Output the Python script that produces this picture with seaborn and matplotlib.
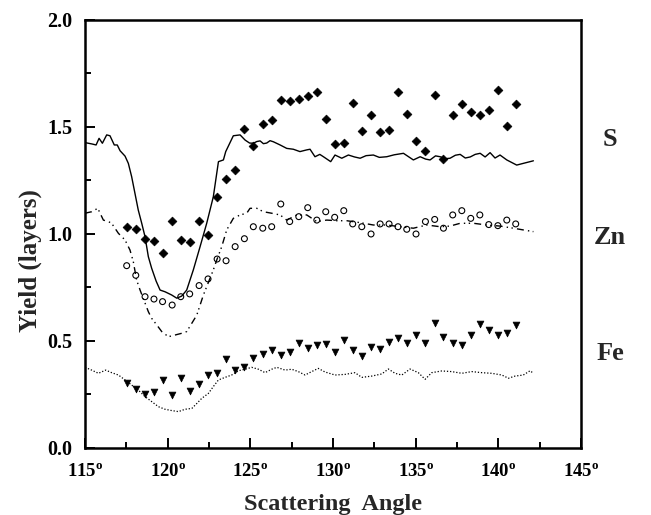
import matplotlib
matplotlib.use("Agg")
import matplotlib.pyplot as plt
import seaborn as sns
import pandas as pd
from matplotlib.ticker import MultipleLocator, FixedLocator, FixedFormatter

# ---- measured points (scattering angle in degrees, yield in layers) ----
pt_angle = [117.52, 118.07, 118.63, 119.17, 119.69, 120.27, 120.79, 121.33, 121.90, 122.44,
            122.99, 123.53, 124.08, 124.64, 125.18, 125.75, 126.29, 126.84, 127.38, 127.93,
            128.47, 129.02, 129.56, 130.10, 130.65, 131.19, 131.74, 132.30, 132.85, 133.39,
            133.93, 134.46, 135.02, 135.59, 136.15, 136.68, 137.24, 137.79, 138.33, 138.88,
            139.42, 139.97, 140.51, 141.05]

s_points = [1.034, 1.023, 0.975, 0.967, 0.910, 1.060, 0.972, 0.961, 1.061, 0.994,
            1.173, 1.258, 1.301, 1.489, 1.413, 1.514, 1.533, 1.628, 1.623, 1.632,
            1.643, 1.665, 1.539, 1.419, 1.427, 1.614, 1.480, 1.558, 1.478, 1.487,
            1.662, 1.559, 1.433, 1.388, 1.650, 1.349, 1.558, 1.606, 1.569, 1.554,
            1.578, 1.673, 1.503, 1.609]

zn_points = [0.852, 0.807, 0.707, 0.696, 0.684, 0.668, 0.707, 0.720, 0.759, 0.790,
             0.883, 0.875, 0.941, 0.978, 1.034, 1.027, 1.034, 1.140, 1.058, 1.081,
             1.123, 1.065, 1.104, 1.078, 1.109, 1.047, 1.034, 1.000, 1.047, 1.047,
             1.034, 1.022, 1.000, 1.058, 1.068, 1.027, 1.089, 1.109, 1.073, 1.089,
             1.044, 1.039, 1.065, 1.047]

fe_points = [0.302, 0.274, 0.251, 0.263, 0.318, 0.249, 0.326, 0.268, 0.299, 0.341,
             0.352, 0.417, 0.364, 0.377, 0.419, 0.439, 0.458, 0.433, 0.447, 0.489,
             0.467, 0.481, 0.485, 0.450, 0.505, 0.458, 0.430, 0.471, 0.464, 0.497,
             0.515, 0.489, 0.528, 0.492, 0.583, 0.520, 0.492, 0.480, 0.528, 0.581,
             0.553, 0.527, 0.536, 0.573]

# ---- simulated curves ----
s_sim_angle = [115.0, 115.4, 115.67, 115.85, 116.05, 116.31, 116.51, 116.77, 116.95, 117.12,
               117.42, 117.62, 117.82, 118.02, 118.22, 118.43, 118.63, 118.83, 119.03, 119.3,
               119.54, 119.84, 120.24, 120.55, 120.85, 121.15, 121.55, 121.96, 122.36, 122.76,
               123.07, 123.37, 123.51, 123.97, 124.38, 124.68, 124.95, 125.18, 125.39, 125.59,
               125.79, 125.99, 126.19, 126.39, 126.8, 127.2, 127.6, 128.0, 128.41, 128.61,
               128.91, 129.2, 129.42, 129.86, 130.12, 130.53, 130.93, 131.3, 131.64, 132.0,
               132.44, 132.8, 133.25, 133.7, 134.26, 134.86, 135.27, 135.6, 135.87, 136.2,
               136.48, 136.8, 137.08, 137.4, 137.69, 138.0, 138.3, 138.6, 138.9, 139.2,
               139.5, 139.8, 140.1, 140.51, 141.11, 141.51, 142.12]
s_sim = [1.427, 1.421, 1.416, 1.447, 1.424, 1.463, 1.459, 1.416, 1.416, 1.389,
         1.364, 1.330, 1.268, 1.190, 1.112, 1.050, 0.987, 0.894, 0.840, 0.780,
         0.738, 0.730, 0.715, 0.700, 0.710, 0.738, 0.832, 0.941, 1.050, 1.174,
         1.338, 1.346, 1.385, 1.459, 1.463, 1.439, 1.425, 1.424, 1.432, 1.435,
         1.422, 1.425, 1.436, 1.431, 1.416, 1.400, 1.396, 1.385, 1.393, 1.396,
         1.361, 1.372, 1.361, 1.338, 1.369, 1.354, 1.369, 1.360, 1.354, 1.366,
         1.369, 1.358, 1.361, 1.370, 1.377, 1.346, 1.361, 1.350, 1.346, 1.365,
         1.361, 1.352, 1.354, 1.368, 1.372, 1.355, 1.360, 1.372, 1.377, 1.360,
         1.380, 1.355, 1.369, 1.346, 1.322, 1.330, 1.342]

zn_sim_angle = [115.0, 115.4, 115.77, 116.11, 116.41, 116.61, 117.02, 117.42, 117.72, 117.92,
                118.12, 118.33, 118.83, 119.03, 119.34, 119.64, 120.04, 120.45, 120.85, 121.15,
                121.46, 121.76, 121.96, 122.16, 122.76, 122.97, 123.27, 123.57, 123.97, 124.38,
                124.78, 124.98, 125.39, 125.79, 126.29, 126.8, 127.2, 127.81, 128.41, 129.02,
                129.62, 130.23, 130.83, 131.64, 132.44, 133.25, 134.06, 134.86, 135.67, 136.48,
                137.08, 137.69, 138.5, 139.3, 140.1, 140.91, 141.51, 142.12]
zn_sim = [1.097, 1.104, 1.120, 1.065, 1.058, 1.050, 1.003, 0.972, 0.925, 0.871,
          0.785, 0.738, 0.637, 0.606, 0.575, 0.544, 0.520, 0.528, 0.536, 0.544,
          0.583, 0.621, 0.668, 0.715, 0.832, 0.879, 0.941, 1.019, 1.073, 1.089,
          1.097, 1.120, 1.120, 1.104, 1.097, 1.089, 1.065, 1.089, 1.089, 1.058,
          1.065, 1.062, 1.062, 1.053, 1.042, 1.042, 1.034, 1.027, 1.042, 1.034,
          1.037, 1.050, 1.050, 1.042, 1.037, 1.027, 1.019, 1.011]

fe_sim_angle = [115.0, 115.4, 115.81, 116.25, 116.61, 117.02, 117.42, 117.82, 118.22, 118.63,
                119.03, 119.44, 119.84, 120.24, 120.65, 121.05, 121.46, 121.76, 122.06, 122.46,
                122.76, 123.07, 123.47, 123.87, 124.28, 124.68, 125.08, 125.49, 125.89, 126.29,
                126.6, 127.1, 127.5, 127.9, 128.31, 128.71, 129.11, 129.52, 130.12, 130.73,
                131.33, 131.74, 132.34, 132.95, 133.35, 133.75, 134.16, 134.66, 135.16, 135.57,
                135.97, 136.58, 137.18, 137.79, 138.39, 139.0, 139.6, 140.21, 140.61, 141.01,
                141.51, 141.92, 142.12]
fe_sim = [0.377, 0.364, 0.349, 0.364, 0.352, 0.341, 0.318, 0.294, 0.271, 0.240,
          0.217, 0.193, 0.181, 0.175, 0.170, 0.181, 0.185, 0.208, 0.232, 0.255,
          0.287, 0.318, 0.330, 0.341, 0.361, 0.368, 0.377, 0.368, 0.352, 0.368,
          0.377, 0.364, 0.368, 0.357, 0.341, 0.357, 0.372, 0.355, 0.341, 0.344,
          0.352, 0.330, 0.336, 0.346, 0.369, 0.349, 0.341, 0.369, 0.352, 0.321,
          0.352, 0.360, 0.357, 0.349, 0.357, 0.352, 0.349, 0.341, 0.326, 0.336,
          0.341, 0.361, 0.349]

x_ticks = [115, 120, 125, 130, 135, 140, 145]
y_ticks = [0.0, 0.5, 1.0, 1.5, 2.0]
element_labels = ["S", "Zn", "Fe"]
element_label_y = [1.44, 0.985, 0.443]

# ---- style ----
sns.set_style("ticks")
plt.rcParams["font.family"] = ["Liberation Serif", "DejaVu Serif"]
plt.rcParams["font.weight"] = "bold"
plt.rcParams["mathtext.fontset"] = "custom"
plt.rcParams["mathtext.rm"] = "Liberation Serif:bold"
plt.rcParams["mathtext.bf"] = "Liberation Serif:bold"
plt.rcParams["mathtext.it"] = "Liberation Serif:bold"

fig = plt.figure(figsize=(6.51, 5.15), dpi=100)
ax = fig.add_axes([0.1306, 0.1301, 0.7619, 0.8311])

pts = pd.DataFrame({"angle": pt_angle, "S": s_points, "Zn": zn_points, "Fe": fe_points})

sns.lineplot(x=s_sim_angle, y=s_sim, ax=ax, color="black", lw=1.0, sort=False, estimator=None)
sns.lineplot(x=zn_sim_angle, y=zn_sim, ax=ax, color="black", lw=1.0, sort=False, estimator=None,
             linestyle=(0, (5, 3, 1, 2.5, 1, 3)))
sns.lineplot(x=fe_sim_angle, y=fe_sim, ax=ax, color="black", lw=0.9, sort=False, estimator=None,
             linestyle=(0, (1, 1.5)))

sns.scatterplot(data=pts, x="angle", y="S", ax=ax, marker="D", s=20, color="black",
                edgecolor="black", linewidth=0.5)
sns.scatterplot(data=pts, x="angle", y="Zn", ax=ax, marker="o", s=18, facecolor="none",
                edgecolor="black", linewidth=0.8)
sns.scatterplot(data=pts, x="angle", y="Fe", ax=ax, marker="v", s=24, color="black",
                edgecolor="black", linewidth=0.5)

ax.set_xlim(115, 145)
ax.set_ylim(0, 2.0)

ax.xaxis.set_major_locator(FixedLocator(x_ticks))
ax.xaxis.set_major_formatter(FixedFormatter([r"$\mathbf{%d^{o}}$" % t for t in x_ticks]))
ax.xaxis.set_minor_locator(MultipleLocator(2.5))
ax.yaxis.set_major_locator(FixedLocator(y_ticks))
ax.yaxis.set_major_formatter(FixedFormatter(["%.1f" % t for t in y_ticks]))
ax.yaxis.set_minor_locator(MultipleLocator(0.25))

ax.tick_params(which="both", direction="in", top=False, right=False, width=1.4, colors="black")
ax.tick_params(which="major", length=7)
ax.tick_params(which="minor", length=4)
ax.tick_params(axis="x", which="major", labelsize=13.5, pad=11)
ax.tick_params(axis="y", which="major", labelsize=14.5, pad=9)

for side in ["left", "right", "top", "bottom"]:
    ax.spines[side].set_linewidth(1.8)
    ax.spines[side].set_color("black")

ax.set_xlabel("Scattering  Angle", fontsize=17.5, fontweight="bold", labelpad=10)
ax.set_ylabel("Yield (layers)", fontsize=18, fontweight="bold")
ax.yaxis.set_label_coords(-0.086, 0.437)

for lab, yy in zip(element_labels, element_label_y):
    ax.text(146.75, yy, lab, fontsize=19, fontweight="bold", ha="center", va="center",
            clip_on=False)

fig.savefig("out.png", dpi=100)
